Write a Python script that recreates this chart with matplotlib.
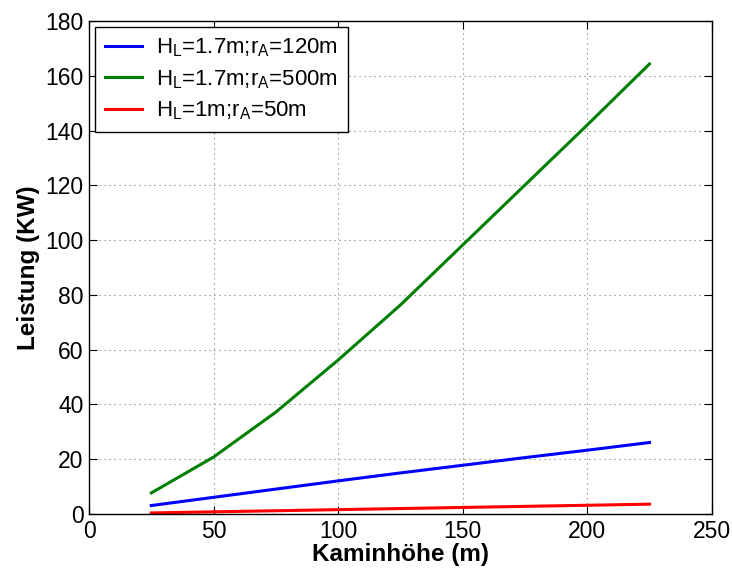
import matplotlib
matplotlib.use("Agg")
import matplotlib.pyplot as plt

plt.rcParams['font.family'] = ['Liberation Sans', 'DejaVu Sans']
plt.rcParams['mathtext.fontset'] = 'custom'
plt.rcParams['mathtext.rm'] = 'Liberation Sans'
plt.rcParams['mathtext.it'] = 'Liberation Sans'

x = [25, 50, 75, 100, 125, 150, 175, 200, 225]
blue = [3.1, 6.1, 9.1, 12.1, 15.0, 17.8, 20.6, 23.3, 26.1]
green = [7.7, 20.8, 37.2, 56.2, 76.3, 98.2, 120.1, 142.0, 164.3]
red = [0.4, 0.8, 1.2, 1.6, 2.0, 2.4, 2.8, 3.2, 3.6]
labels = [r'H$_\mathregular{L}$=1.7m;r$_\mathregular{A}$=120m',
          r'H$_\mathregular{L}$=1.7m;r$_\mathregular{A}$=500m',
          r'H$_\mathregular{L}$=1m;r$_\mathregular{A}$=50m']
xticks = [0, 50, 100, 150, 200, 250]
yticks = [0, 20, 40, 60, 80, 100, 120, 140, 160, 180]

fig = plt.figure(figsize=(7.32, 5.70), dpi=100)
ax = fig.add_axes([0.1216, 0.0982, 0.8507, 0.865])
ax.plot(x, blue, color='#0000ff', lw=2.2, label=labels[0])
ax.plot(x, green, color='#008000', lw=2.2, label=labels[1])
ax.plot(x, red, color='#ff0000', lw=2.2, label=labels[2])
ax.set_xlim(0, 250)
ax.set_ylim(0, 180)
ax.set_xticks(xticks)
ax.set_yticks(yticks)
ax.tick_params(direction='in', top=True, right=True, labelsize=16.5, length=6, width=0.8, pad=4)
ax.grid(True, linestyle=(0, (1, 3.5)), color='#777777', linewidth=0.8)
for s in ax.spines.values():
    s.set_linewidth(1.0)
ax.set_xlabel('Kaminhöhe (m)', fontsize=17.5, fontweight='bold', labelpad=0)
ax.set_ylabel('Leistung (KW)', fontsize=17.5, fontweight='bold', labelpad=4)
leg = ax.legend(loc='upper left', fontsize=16, fancybox=False, edgecolor='black',
                framealpha=1, borderaxespad=0.25, handlelength=1.7, handletextpad=0.6,
                labelspacing=0.4, borderpad=0.45)
leg.get_frame().set_linewidth(1.0)
fig.savefig('out.png', dpi=100)
